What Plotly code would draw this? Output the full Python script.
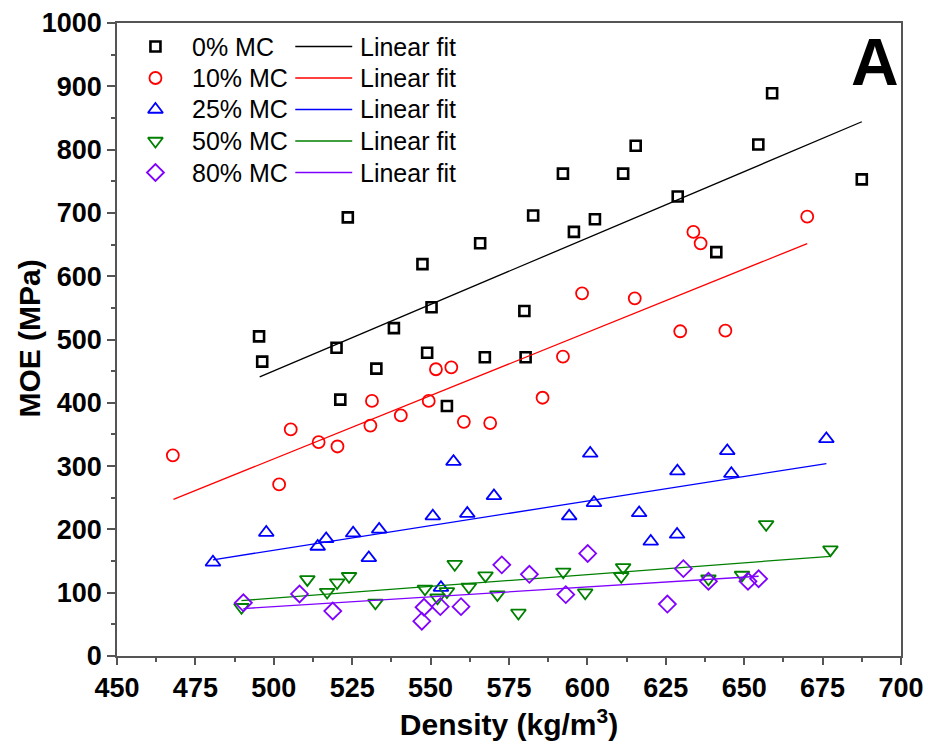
import plotly.graph_objects as go

# ---------------- data ----------------
series_names = ["0% MC", "10% MC", "25% MC", "50% MC", "80% MC"]
fit_label = "Linear fit"

x_0 = [495.3, 496.3, 520.0, 521.2, 523.6, 532.7, 538.3, 547.4, 548.9, 550.3, 555.2, 565.8, 567.3,
       579.9, 580.3, 582.7, 592.2, 595.7, 602.4, 611.4, 615.4, 628.8, 641.1, 654.5, 658.9, 687.5]
y_0 = [505, 465, 487, 405, 693, 454, 518, 619, 479, 551, 395, 652, 472,
       545, 472, 696, 762, 670, 690, 762, 806, 726, 638, 808, 889, 753]

x_10 = [467.8, 501.7, 505.4, 514.3, 520.3, 530.8, 531.3, 540.5, 549.4, 551.7, 556.6, 560.6, 569.0,
        585.7, 592.2, 598.3, 615.1, 629.6, 633.8, 636.1, 644.0, 670.1]
y_10 = [317, 271, 358, 338, 331, 364, 403, 380, 403, 453, 456, 370, 368,
        408, 473, 573, 565, 513, 670, 652, 514, 694]

x_25 = [480.6, 497.6, 514.0, 516.7, 525.3, 530.3, 533.6, 550.7, 553.3, 557.3, 561.7, 570.2,
        594.2, 600.9, 602.1, 616.5, 620.2, 628.6, 628.7, 644.6, 645.9, 676.2]
y_25 = [148, 195, 173, 185, 194, 155, 200, 221, 108, 307, 225, 253,
        221, 320, 242, 226, 181, 192, 292, 324, 288, 343]

x_50 = [489.7, 510.7, 517.0, 520.2, 524.0, 532.4, 548.2, 552.2, 555.2, 557.7, 562.2, 567.5, 571.3,
        578.0, 592.3, 599.3, 610.8, 611.4, 638.6, 649.3, 657.0, 677.5]
y_50 = [77, 121, 101, 116, 126, 84, 106, 92, 102, 145, 109, 127, 97,
        68, 133, 100, 126, 140, 122, 128, 208, 168]

x_80 = [490.3, 508.2, 518.8, 547.2, 547.9, 553.1, 559.7, 572.7, 581.5, 593.1, 600.1, 625.5,
        630.6, 638.6, 651.2, 654.6]
y_80 = [84, 98, 71, 55, 77, 78, 78, 144, 129, 97, 162, 82,
        138, 118, 118, 122]

# linear-fit end points as drawn in the reference
fit_x_0, fit_y_0 = [495.5, 687.5], [441, 844]
fit_x_10, fit_y_10 = [468.0, 670.1], [247.5, 651.5]
fit_x_25, fit_y_25 = [480.6, 676.2], [152, 304]
fit_x_50, fit_y_50 = [489.7, 677.5], [87.5, 157.5]
fit_x_80, fit_y_80 = [490.3, 654.6], [75, 126]

x_ticks = [450, 475, 500, 525, 550, 575, 600, 625, 650, 675, 700]
y_ticks = [0, 100, 200, 300, 400, 500, 600, 700, 800, 900, 1000]

x_title = "Density (kg/m<sup>3</sup>)"
y_title = "MOE (MPa)"
panel_label = "A"

# ---------------- styles ----------------
colors = ["#000000", "#ff0000", "#0000ff", "#008000", "#8000ff"]
symbols = ["square-open", "circle-open", "triangle-up-open", "triangle-down-open", "diamond-open"]
msizes = [10, 12, 13, 13, 13]
mlw = [2.6, 1.8, 1.8, 1.8, 1.8]

xs = [x_0, x_10, x_25, x_50, x_80]
ys = [y_0, y_10, y_25, y_50, y_80]
fxs = [fit_x_0, fit_x_10, fit_x_25, fit_x_50, fit_x_80]
fys = [fit_y_0, fit_y_10, fit_y_25, fit_y_50, fit_y_80]

W, H = 928, 747
L, R, T, B = 116.5, 26.5, 23, 91
pw, ph = W - L - R, H - T - B

def px2paper_x(px):
    return (px - L) / pw

def px2paper_y(py):
    return (H - B - py) / ph

FONT = "Liberation Sans, Arial, sans-serif"

fig = go.Figure()
for i in range(5):
    fig.add_trace(go.Scatter(
        x=xs[i], y=ys[i], mode="markers", name=series_names[i], showlegend=False,
        marker=dict(symbol=symbols[i], size=msizes[i], color=colors[i],
                    line=dict(color=colors[i], width=mlw[i]))))
    fig.add_trace(go.Scatter(
        x=fxs[i], y=fys[i], mode="lines", name=fit_label, showlegend=False,
        line=dict(color=colors[i], width=1.3)))

# ---------------- legend (manual, two columns) ----------------
leg_row_y = [46.5 + 31.5 * i for i in range(5)]
leg_marker_x = 155
leg_text1_x = 190
leg_line_x = [295, 352]
leg_text2_x = 358
annotations = []
for i in range(5):
    yp = px2paper_y(leg_row_y[i])
    fig.add_trace(go.Scatter(
        x=[px2paper_x(leg_marker_x)], y=[yp], mode="markers", showlegend=False,
        xaxis="x2", yaxis="y2", hoverinfo="skip",
        marker=dict(symbol=symbols[i], size=msizes[i], color=colors[i],
                    line=dict(color=colors[i], width=mlw[i]))))
    fig.add_trace(go.Scatter(
        x=[px2paper_x(leg_line_x[0]), px2paper_x(leg_line_x[1])], y=[yp, yp],
        mode="lines", showlegend=False, xaxis="x2", yaxis="y2", hoverinfo="skip",
        line=dict(color=colors[i], width=1.3)))
    annotations.append(dict(x=px2paper_x(leg_text1_x), y=yp, xref="paper", yref="paper",
                            text=series_names[i], showarrow=False, xanchor="left", yanchor="middle",
                            font=dict(family=FONT, size=25, color="black")))
    annotations.append(dict(x=px2paper_x(leg_text2_x), y=yp, xref="paper", yref="paper",
                            text=fit_label, showarrow=False, xanchor="left", yanchor="middle",
                            font=dict(family=FONT, size=25, color="black")))

annotations.append(dict(x=px2paper_x(875), y=px2paper_y(62), xref="paper", yref="paper",
                        text="<b>" + panel_label + "</b>", showarrow=False,
                        xanchor="center", yanchor="middle",
                        font=dict(family=FONT, size=66, color="black")))

# y-axis title placed explicitly
annotations.append(dict(x=px2paper_x(28), y=px2paper_y(339), xref="paper", yref="paper",
                        text="<b>" + y_title + "</b>", showarrow=False, textangle=-90,
                        xanchor="center", yanchor="middle",
                        font=dict(family=FONT, size=30, color="black")))

axis_common = dict(
    showgrid=False, zeroline=False, showline=True, linecolor="#555555", linewidth=1.6,
    mirror=True, ticks="outside", tickcolor="#555555", tickwidth=1.5,
    tickfont=dict(family=FONT, size=27, color="black", weight="bold"),
)

fig.update_layout(
    width=W, height=H,
    margin=dict(l=L, r=R, t=T, b=B, autoexpand=False),
    paper_bgcolor="white", plot_bgcolor="white",
    showlegend=False,
    xaxis=dict(range=[450, 700], tickvals=x_ticks, ticklen=7,
               minor=dict(ticks="outside", ticklen=4, dtick=12.5, tick0=450, tickcolor="#555555"),
               title=dict(text=x_title, standoff=12,
                          font=dict(family=FONT, size=30, color="black", weight="bold")),
               automargin=False, **axis_common),
    yaxis=dict(range=[0, 1000], tickvals=y_ticks, ticklen=8,
               minor=dict(ticks="outside", ticklen=4, dtick=50, tick0=0, tickcolor="#555555"),
               automargin=False, **axis_common),
    xaxis2=dict(overlaying="x", range=[0, 1], visible=False, fixedrange=True),
    yaxis2=dict(overlaying="y", range=[0, 1], visible=False, fixedrange=True),
    annotations=annotations,
)

fig.write_html("out.html")
